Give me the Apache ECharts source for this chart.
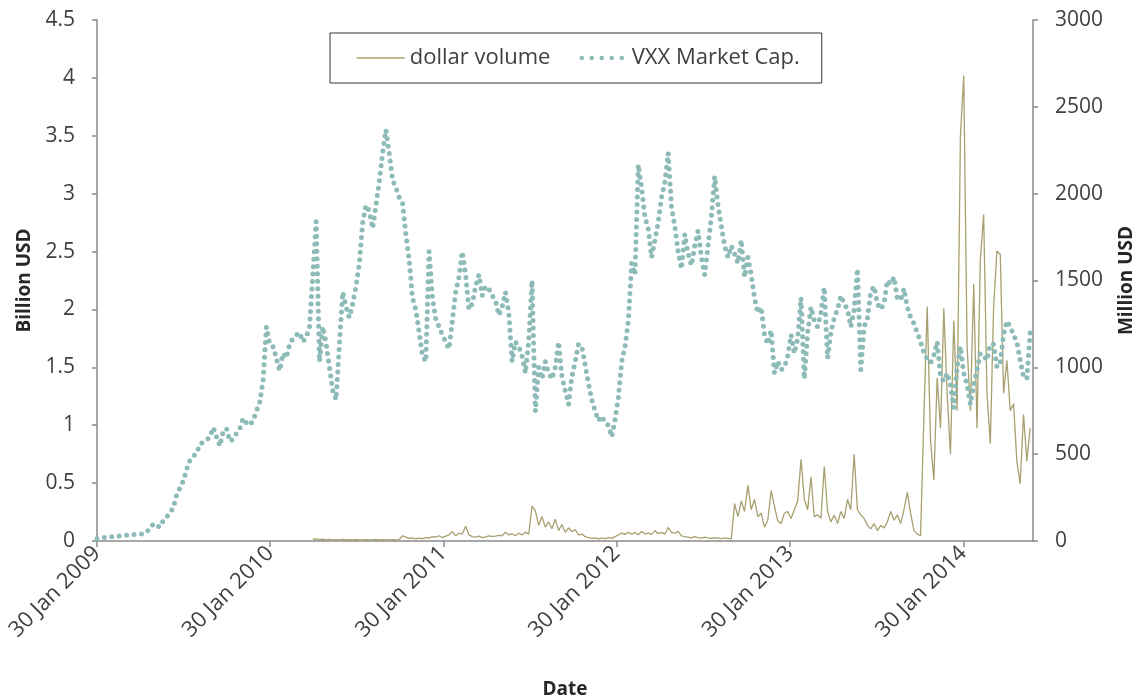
<!DOCTYPE html>
<html>
<head>
<meta charset="utf-8">
<script src="https://cdn.jsdelivr.net/npm/echarts@6/dist/echarts.min.js"></script>
<style>
  html, body { margin: 0; padding: 0; background: #fff; }
  #chart { width: 1143px; height: 700px; }
</style>
</head>
<body>
<div id="chart"></div>
<script>
// weekly samples, week 0 = 30 Jan 2009
const startDate = Date.UTC(2009, 0, 30)
const weekMs = 7 * 86400000
const tickYears = [2009, 2010, 2011, 2012, 2013, 2014]

// VXX market cap, billion USD
const cap2009 = [0.02, 0.02, 0.03, 0.035, 0.035, 0.04, 0.04, 0.045, 0.045, 0.05,
    0.05, 0.055, 0.06, 0.06, 0.06, 0.08, 0.11, 0.15, 0.13, 0.12,
    0.18, 0.21, 0.24, 0.29, 0.40, 0.46, 0.52, 0.62, 0.70, 0.73,
    0.76, 0.84, 0.85, 0.87, 0.90, 0.98, 0.90, 0.82, 0.95, 0.97,
    0.86, 0.88, 0.93, 0.97, 1.06, 1.02, 1.0, 1.04, 1.12, 1.2,
    1.38, 1.85]
const cap2010 = [1.7, 1.68, 1.58, 1.47, 1.62, 1.58, 1.7, 1.75, 1.78, 1.8,
    1.72, 1.76, 1.85, 2.3, 2.76, 1.55, 1.85, 1.7, 1.5, 1.3,
    1.22, 1.7, 2.15, 2.02, 1.93, 2.05, 2.2, 2.4, 2.75, 2.9,
    2.85, 2.7, 2.9, 3.1, 3.35, 3.55, 3.35, 3.12, 3.05, 2.97,
    2.92, 2.65, 2.43, 2.1, 2.0, 1.8, 1.6, 1.55, 2.5, 2.1,
    1.92, 1.85]
const cap2011 = [1.78, 1.72, 1.66, 1.9, 2.15, 2.28, 2.5, 2.3, 2.0, 2.05,
    2.2, 2.3, 2.12, 2.2, 2.18, 2.12, 2.08, 1.95, 2.02, 2.15,
    1.97, 1.55, 1.72, 1.68, 1.6, 1.45, 1.72, 2.25, 1.12, 1.5,
    1.4, 1.55, 1.45, 1.4, 1.5, 1.72, 1.42, 1.3, 1.18, 1.42,
    1.55, 1.7, 1.68, 1.52, 1.36, 1.22, 1.12, 1.04, 1.08, 1.02,
    1.0, 0.9]
const cap2012 = [1.05, 1.24, 1.55, 1.68, 1.9, 2.4, 2.3, 3.25, 3.05, 2.8,
    2.7, 2.45, 2.6, 2.75, 2.97, 3.1, 3.35, 2.88, 2.72, 2.5,
    2.35, 2.65, 2.48, 2.38, 2.55, 2.68, 2.45, 2.3, 2.55, 2.8,
    3.15, 2.9, 2.72, 2.55, 2.45, 2.55, 2.48, 2.4, 2.6, 2.28,
    2.45, 2.3, 2.1, 1.97, 2.02, 1.78, 1.7, 1.82, 1.45, 1.55,
    1.48, 1.5]
const cap2013 = [1.6, 1.78, 1.62, 1.75, 2.1, 1.4, 1.8, 2.02, 1.9, 1.85,
    1.97, 2.19, 1.58, 1.8, 1.93, 2.0, 2.12, 2.05, 2.0, 1.85,
    2.0, 2.35, 1.48, 1.85, 1.92, 2.15, 2.2, 2.05, 2.0, 2.05,
    2.25, 2.22, 2.28, 2.1, 2.08, 2.18, 2.02, 1.93, 1.88, 1.8,
    1.72, 1.63, 1.57, 1.54, 1.6, 1.72, 1.42, 1.38, 1.45, 1.35,
    1.15, 1.5]
const cap2014 = [1.68, 1.45, 1.35, 1.18, 1.35, 1.48, 1.62, 1.6, 1.56, 1.7,
    1.7, 1.5, 1.55, 1.78, 1.9, 1.85, 1.78, 1.72, 1.56, 1.42,
    1.4, 1.8]

// dollar volume, million USD (first value is week 65)
const volFirstWeek = 65
const vol2010 = [10, 12, 8, 10, 7, 9, 6, 8, 7, 9,
    6, 8, 7, 8, 6, 7, 8, 6, 7, 9,
    7, 8, 6, 7, 8, 7, 8, 30, 22, 15,
    18, 12, 16, 14, 20, 18, 25, 22, 30]
const vol2011 = [20, 28, 35, 55, 30, 45, 40, 85, 35, 25,
    22, 28, 20, 24, 30, 26, 28, 32, 30, 50,
    35, 42, 30, 45, 35, 50, 40, 200, 175, 90,
    140, 80, 110, 70, 125, 60, 95, 50, 75, 55,
    65, 35, 40, 25, 20, 15, 18, 12, 16, 14,
    20, 15]
const vol2012 = [25, 35, 45, 38, 50, 40, 48, 36, 55, 40,
    45, 38, 60, 42, 50, 40, 78, 50, 45, 55,
    30, 25, 22, 18, 25, 20, 16, 22, 18, 15,
    20, 17, 14, 18, 15, 12, 215, 140, 230, 170,
    320, 180, 240, 140, 160, 80, 120, 290, 200, 115,
    100, 160]
const vol2013 = [170, 130, 180, 230, 470, 240, 180, 370, 140, 150,
    130, 430, 170, 110, 150, 100, 170, 130, 240, 180,
    500, 180, 150, 130, 90, 70, 100, 60, 90, 75,
    110, 170, 120, 150, 100, 180, 280, 160, 60, 40,
    30, 710, 1350, 580, 350, 940, 650, 1340, 850, 500,
    1270, 750]
const vol2014 = [2330, 2680, 1130, 750, 1480, 650, 1620, 1880, 850, 560,
    1350, 1670, 1650, 850, 1040, 750, 790, 460, 330, 730,
    460, 650]

const capValues = [].concat(cap2009, cap2010, cap2011, cap2012, cap2013, cap2014)
const volValues = [].concat(vol2010, vol2011, vol2012, vol2013, vol2014)

function toPairs(values, firstWeek) {
    return values.map((v, k) => [startDate + (firstWeek + k) * weekMs, v])
}

const tickValues = tickYears.map((y) => Date.UTC(y, 0, 30))
const font = "'Open Sans', sans-serif"
const textColor = "#404040"
const axisColor = "#8a8a8a"
const volColor = "#a8a070"
const capColor = "#8cbbb8"
const nameStyle = { fontSize: 19, fontWeight: "bold", color: "#262626", fontFamily: font }

const myChart = echarts.init(document.getElementById("chart"), null, { renderer: "canvas" })

const option = {
    animation: false,
    backgroundColor: "#fff",
    textStyle: { fontFamily: font },
    grid: { left: 97, right: 110, top: 20, bottom: 159, containLabel: false, outerBoundsMode: "none" },
    legend: {
        left: 330,
        top: 33,
        padding: [14, 22, 14, 26],
        borderColor: "#333",
        borderWidth: 1,
        itemWidth: 48,
        itemHeight: 14,
        itemGap: 26,
        itemStyle: { opacity: 0 },
        textStyle: { fontSize: 22, color: textColor, fontFamily: font },
        data: [
            { name: "dollar volume", lineStyle: { color: volColor, width: 1.5 } },
            { name: "VXX Market Cap.", lineStyle: { color: capColor, width: 4.5, type: [0, 10], dashOffset: -3, cap: "round" } },
        ],
    },
    // dates as UTC timestamps on a value axis, ticks on 30 Jan of each year
    xAxis: {
        type: "value",
        min: startDate,
        max: Date.UTC(2014, 5, 26),
        name: "Date",
        nameLocation: "middle",
        nameGap: 139,
        nameTextStyle: nameStyle,
        axisLine: { show: true, lineStyle: { color: axisColor, width: 1.5 } },
        axisTick: { show: true, length: 6, customValues: tickValues, lineStyle: { color: axisColor, width: 1.5 } },
        axisLabel: {
            customValues: tickValues,
            rotate: 45,
            margin: 9,
            fontSize: 22,
            color: textColor,
            fontFamily: font,
            formatter: (val) => "30 Jan " + new Date(val).getUTCFullYear(),
        },
        splitLine: { show: false },
    },
    yAxis: [
        {
            type: "value",
            min: 0,
            max: 4.5,
            interval: 0.5,
            name: "Billion USD",
            nameLocation: "middle",
            nameRotate: 90,
            nameGap: 63,
            nameTextStyle: nameStyle,
            axisLine: { show: true, lineStyle: { color: axisColor, width: 1.5 } },
            axisTick: { show: true, length: 5, lineStyle: { color: axisColor, width: 1.5 } },
            axisLabel: { fontSize: 21, color: textColor, margin: 22, fontFamily: font },
            splitLine: { show: false },
        },
        {
            type: "value",
            min: 0,
            max: 3000,
            interval: 500,
            name: "Million USD",
            nameLocation: "middle",
            nameRotate: 90,
            nameGap: 84,
            nameTextStyle: nameStyle,
            axisLine: { show: true, lineStyle: { color: axisColor, width: 1.5 } },
            axisTick: { show: true, length: 5, lineStyle: { color: axisColor, width: 1.5 } },
            axisLabel: { fontSize: 21, color: textColor, margin: 22, fontFamily: font, formatter: (v) => String(v) },
            splitLine: { show: false },
        },
    ],
    series: [
        {
            name: "dollar volume",
            type: "line",
            yAxisIndex: 1,
            symbol: "none",
            data: toPairs(volValues, volFirstWeek),
            itemStyle: { color: volColor },
            lineStyle: { color: volColor, width: 1.3 },
            z: 2,
        },
        {
            name: "VXX Market Cap.",
            type: "line",
            yAxisIndex: 0,
            symbol: "none",
            data: toPairs(capValues, 0),
            itemStyle: { color: capColor },
            lineStyle: { color: capColor, width: 5, type: [0, 7.5], cap: "round", join: "round" },
            z: 3,
        },
    ],
}
myChart.setOption(option)
</script>
</body>
</html>
